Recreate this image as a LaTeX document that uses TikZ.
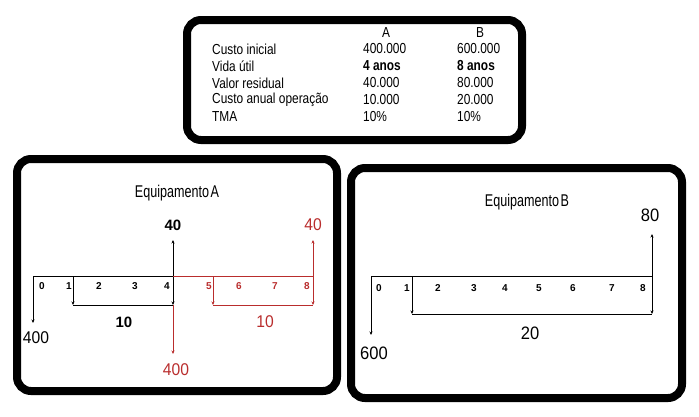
\documentclass[tikz,border=0pt]{standalone}
\usepackage{fontspec}
\usepackage{graphicx}
\setmainfont{Liberation Sans}
\newfontfamily\condfont[FakeStretch=0.82]{Liberation Sans}
\newfontfamily\numfont[FakeStretch=0.92]{Liberation Sans}
\usetikzlibrary{arrows.meta}
\definecolor{cfred}{RGB}{185,45,45}
\begin{document}
\begin{tikzpicture}[x=1pt,y=-1pt,
  frame/.style={draw=black,line width=8pt,rounded corners=14pt},
  flow/.style={line width=0.9pt},
  arr/.style={flow,-{Stealth[length=3.5pt,width=3pt]}},
  ticklbl/.style={font=\fontsize{10}{11}\selectfont\bfseries,inner sep=0pt},
  bignum/.style={font=\numfont\fontsize{17}{19}\selectfont,inner sep=0pt},
  tbl/.style={font=\condfont\fontsize{14.5}{15}\selectfont,anchor=west,inner sep=0pt},
  ttl/.style={font=\fontsize{17}{19}\selectfont,inner sep=0pt}
]
\useasboundingbox (0,0) rectangle (699,416);
% frames
\draw[frame] (187,20) rectangle (522,140);
\draw[frame] (17,159) rectangle (337,391);
\draw[frame] (351,168) rectangle (682,398);

% table
\node[tbl,anchor=center] (hA) at (386,33) {A};
\node[tbl,anchor=center] (hB) at (480,33) {B};
\node[tbl] (l1) at (212,49) {Custo inicial};
\node[tbl] (l2) at (212,66) {Vida útil};
\node[tbl] (l3) at (212,83) {Valor residual};
\node[tbl] (l4) at (212,100) {Custo anual operação};
\node[tbl] (l5) at (212,117) {TMA};
\node[tbl] (a1v) at (363,49) {400.000};
\node[tbl] (a2v) at (363,66) {\bfseries 4 anos};
\node[tbl] (a3v) at (363,83) {40.000};
\node[tbl] (a4v) at (363,100) {10.000};
\node[tbl] (a5v) at (363,117) {10\%};
\node[tbl] (b1v) at (457,49) {600.000};
\node[tbl] (b2v) at (457,66) {\bfseries 8 anos};
\node[tbl] (b3v) at (457,83) {80.000};
\node[tbl] (b4v) at (457,100) {20.000};
\node[tbl] (b5v) at (457,117) {10\%};

% ---------- Equipamento A ----------
\node[ttl] (ttlA) at (177,193) {\scalebox{0.74}[1]{Equipamento\hspace{0.12em}A}};
\coordinate (A0) at (33,276);
\coordinate (A1) at (73,276);
\coordinate (A4) at (173,276);
\coordinate (A5) at (213,276);
\coordinate (A8) at (313,276);
\coordinate (A0d) at (33,323);
\coordinate (A1d) at (73,305);
\coordinate (A4d) at (173,305);
\coordinate (A4u) at (173,240);
\coordinate (A4r) at (173,354);
\coordinate (A5d) at (213,305);
\coordinate (A8d) at (313,305);
\coordinate (A8u) at (313,240);

\draw[flow] (A0) -- (A4);
\draw[arr] (A0) -- (A0d);
\draw[arr] (A1) -- (A1d);
\draw[flow] (A1d) -- (A4d);
\draw[arr] (A4) -- (A4d);
\draw[arr] (A4) -- (A4u);
\draw[flow,cfred] (A4) -- (A8);
\draw[arr,cfred] (A4d) -- (A4r);
\draw[arr,cfred] (A5) -- (A5d);
\draw[flow,cfred] (A5d) -- (A8d);
\draw[arr,cfred] (A8) -- (A8d);
\draw[arr,cfred] (A8) -- (A8u);

\node[ticklbl] (tA0) at (42,286) {0};
\node[ticklbl] (tA1) at (69,286) {1};
\node[ticklbl] (tA2) at (99,286) {2};
\node[ticklbl] (tA3) at (135,286) {3};
\node[ticklbl] (tA4) at (167,286) {4};
\node[ticklbl,cfred] (tA5) at (209,286) {5};
\node[ticklbl,cfred] (tA6) at (239,286) {6};
\node[ticklbl,cfred] (tA7) at (275,286) {7};
\node[ticklbl,cfred] (tA8) at (307,286) {8};

\node[bignum,font=\fontsize{15}{17}\selectfont\bfseries] (vA40) at (173,225) {40};
\node[bignum,cfred] (vA40r) at (313,225) {40};
\node[bignum] (vA400) at (36,338) {400};
\node[bignum,cfred] (vA400r) at (176,370) {400};
\node[bignum,font=\fontsize{15}{17}\selectfont\bfseries] (vA10) at (124,322) {10};
\node[bignum,cfred] (vA10r) at (265,322) {10};

% ---------- Equipamento B ----------
\node[ttl] (ttlB) at (527,202) {\scalebox{0.74}[1]{Equipamento\hspace{0.12em}B}};
\coordinate (B0) at (371,276);
\coordinate (B1) at (412,276);
\coordinate (B8) at (652,276);
\coordinate (B0d) at (371,335);
\coordinate (B1d) at (412,314);
\coordinate (B8d) at (652,314);
\coordinate (B8u) at (652,234);

\draw[flow] (B0) -- (B8);
\draw[arr] (B0) -- (B0d);
\draw[arr] (B1) -- (B1d);
\draw[flow] (B1d) -- (B8d);
\draw[arr] (B8) -- (B8d);
\draw[arr] (B8) -- (B8u);

\node[ticklbl] (tB0) at (379,288) {0};
\node[ticklbl] (tB1) at (407,288) {1};
\node[ticklbl] (tB2) at (438,288) {2};
\node[ticklbl] (tB3) at (474,288) {3};
\node[ticklbl] (tB4) at (505,288) {4};
\node[ticklbl] (tB5) at (539,288) {5};
\node[ticklbl] (tB6) at (573,288) {6};
\node[ticklbl] (tB7) at (612,288) {7};
\node[ticklbl] (tB8) at (643,288) {8};

\node[bignum,font=\numfont\fontsize{18}{20}\selectfont] (vB80) at (650,215) {80};
\node[bignum,font=\numfont\fontsize{18}{20}\selectfont] (vB600) at (374,353) {600};
\node[bignum,font=\numfont\fontsize{18}{20}\selectfont] (vB20) at (530,333) {20};
\end{tikzpicture}
\end{document}
